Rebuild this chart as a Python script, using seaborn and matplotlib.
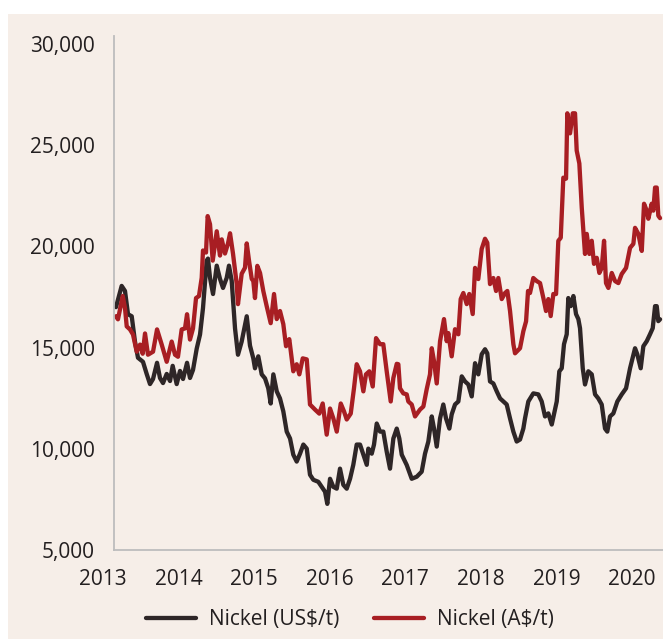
import numpy as np
import pandas as pd
import matplotlib
matplotlib.use("Agg")
import matplotlib.pyplot as plt
from matplotlib.patches import Rectangle
from matplotlib.ticker import FuncFormatter
import seaborn as sns

# Nickel price, US$/t (decimal year, value)
us_dates = [
    2013.172, 2013.247, 2013.291, 2013.331, 2013.380, 2013.423, 2013.463, 2013.529,
    2013.578, 2013.622, 2013.662, 2013.715, 2013.754, 2013.794, 2013.843, 2013.887,
    2013.922, 2013.975, 2014.019, 2014.059, 2014.112, 2014.151, 2014.191, 2014.240,
    2014.284, 2014.323, 2014.372, 2014.389, 2014.416, 2014.456, 2014.505, 2014.548,
    2014.588, 2014.637, 2014.667, 2014.703, 2014.747, 2014.786, 2014.835, 2014.902,
    2014.945, 2014.989, 2015.011, 2015.055, 2015.100, 2015.144, 2015.187, 2015.219,
    2015.254, 2015.299, 2015.342, 2015.386, 2015.431, 2015.475, 2015.518, 2015.563,
    2015.607, 2015.651, 2015.696, 2015.739, 2015.783, 2015.849, 2015.894, 2015.938,
    2015.968, 2016.004, 2016.048, 2016.093, 2016.136, 2016.180, 2016.225, 2016.269,
    2016.312, 2016.357, 2016.401, 2016.445, 2016.490, 2016.511, 2016.556, 2016.586,
    2016.622, 2016.666, 2016.709, 2016.754, 2016.798, 2016.842, 2016.887, 2016.921,
    2016.953, 2017.019, 2017.085, 2017.151, 2017.217, 2017.261, 2017.305, 2017.350,
    2017.380, 2017.416, 2017.460, 2017.503, 2017.539, 2017.583, 2017.614, 2017.658,
    2017.702, 2017.747, 2017.790, 2017.834, 2017.879, 2017.923, 2017.966, 2018.011,
    2018.055, 2018.085, 2018.121, 2018.165, 2018.210, 2018.254, 2018.297, 2018.342,
    2018.386, 2018.430, 2018.474, 2018.518, 2018.562, 2018.584, 2018.628, 2018.694,
    2018.760, 2018.805, 2018.849, 2018.893, 2018.938, 2018.981, 2019.004, 2019.038,
    2019.070, 2019.100, 2019.136, 2019.157, 2019.189, 2019.224, 2019.259, 2019.290,
    2019.312, 2019.348, 2019.378, 2019.422, 2019.467, 2019.511, 2019.554, 2019.599,
    2019.643, 2019.673, 2019.709, 2019.753, 2019.806, 2019.864, 2019.921, 2019.974,
    2020.040, 2020.070, 2020.115, 2020.150, 2020.195, 2020.238, 2020.274, 2020.305,
    2020.327, 2020.348, 2020.371,
]
us_values = [
    17000, 18050, 17800, 16650, 16550, 15300, 14500, 14300,
    13700, 13200, 13450, 14250, 13500, 13250, 13700, 13350,
    14100, 13200, 13850, 13450, 14250, 13500, 13900, 14950,
    15650, 16950, 19300, 19400, 18450, 17650, 19050, 18400,
    17950, 18450, 19050, 18300, 15950, 14650, 15300, 16550,
    15100, 14470, 13980, 14570, 13680, 13480, 12990, 12240,
    13680, 12840, 12490, 11850, 10850, 10510, 9710, 9370,
    9760, 10210, 10010, 8720, 8470, 8370, 8120, 7880,
    7280, 8520, 8120, 8030, 9020, 8220, 8030, 8520,
    9210, 10210, 10210, 9710, 9210, 10010, 9760, 10210,
    11250, 10850, 10850, 9860, 9020, 10510, 11000, 10510,
    9710, 9200, 8520, 8620, 8870, 9760, 10360, 11600,
    11000, 10110, 11500, 12190, 11500, 11000, 11700, 12190,
    12340, 13580, 13330, 13180, 12590, 14230, 13680, 14670,
    14920, 14720, 13330, 13230, 12840, 12490, 12340, 12190,
    11500, 10850, 10360, 10460, 11000, 11500, 12340, 12740,
    12690, 12340, 11600, 11750, 11200, 11940, 12340, 13830,
    13980, 15170, 15660, 17450, 17050, 17550, 16660, 16410,
    15960, 13980, 13180, 13830, 13680, 12690, 12490, 12190,
    11000, 10850, 11600, 11750, 12340, 12690, 12990, 13980,
    14970, 14670, 13980, 15070, 15320, 15660, 15960, 17050,
    17050, 16310, 16400,
]

# Nickel price, A$/t (decimal year, value)
aud_dates = [
    2013.172, 2013.198, 2013.261, 2013.291, 2013.314, 2013.357, 2013.397, 2013.446,
    2013.490, 2013.525, 2013.556, 2013.595, 2013.662, 2013.715, 2013.777, 2013.843,
    2013.909, 2013.953, 2013.992, 2014.041, 2014.085, 2014.112, 2014.151, 2014.191,
    2014.231, 2014.270, 2014.306, 2014.323, 2014.363, 2014.385, 2014.416, 2014.452,
    2014.505, 2014.548, 2014.571, 2014.614, 2014.654, 2014.681, 2014.720, 2014.769,
    2014.786, 2014.835, 2014.879, 2014.902, 2014.932, 2014.968, 2014.989, 2015.011,
    2015.042, 2015.078, 2015.121, 2015.166, 2015.219, 2015.263, 2015.299, 2015.342,
    2015.386, 2015.422, 2015.465, 2015.518, 2015.563, 2015.598, 2015.643, 2015.696,
    2015.739, 2015.805, 2015.862, 2015.907, 2015.960, 2016.004, 2016.048, 2016.093,
    2016.146, 2016.189, 2016.225, 2016.278, 2016.321, 2016.357, 2016.401, 2016.445,
    2016.480, 2016.524, 2016.569, 2016.613, 2016.666, 2016.709, 2016.754, 2016.807,
    2016.842, 2016.887, 2016.908, 2016.930, 2016.974, 2017.019, 2017.040, 2017.085,
    2017.129, 2017.195, 2017.239, 2017.283, 2017.327, 2017.350, 2017.380, 2017.416,
    2017.460, 2017.512, 2017.548, 2017.569, 2017.614, 2017.658, 2017.702, 2017.733,
    2017.768, 2017.813, 2017.847, 2017.892, 2017.923, 2017.966, 2018.011, 2018.055,
    2018.085, 2018.121, 2018.165, 2018.201, 2018.231, 2018.276, 2018.320, 2018.350,
    2018.386, 2018.430, 2018.452, 2018.518, 2018.562, 2018.598, 2018.624, 2018.650,
    2018.694, 2018.739, 2018.783, 2018.827, 2018.862, 2018.893, 2018.924, 2018.959,
    2018.995, 2019.025, 2019.057, 2019.091, 2019.127, 2019.144, 2019.180, 2019.216,
    2019.246, 2019.268, 2019.303, 2019.335, 2019.378, 2019.401, 2019.436, 2019.467,
    2019.497, 2019.533, 2019.568, 2019.599, 2019.630, 2019.656, 2019.687, 2019.732,
    2019.775, 2019.819, 2019.864, 2019.921, 2019.974, 2020.018, 2020.040, 2020.084,
    2020.129, 2020.159, 2020.195, 2020.216, 2020.260, 2020.282, 2020.305, 2020.327,
    2020.348, 2020.371,
]
aud_values = [
    16550, 16400, 17550, 16950, 16050, 15900, 15650, 14800,
    15150, 14700, 15700, 14650, 14800, 15900, 15150, 14300,
    15300, 14650, 14550, 15900, 15950, 16650, 15400, 15950,
    17450, 17550, 18450, 19800, 19700, 21500, 21100, 19300,
    20750, 19550, 20350, 19650, 20150, 20650, 19650, 18150,
    17150, 18650, 18950, 20150, 19300, 18400, 18290, 17450,
    19040, 18690, 17800, 17050, 16210, 17650, 16410, 16810,
    16160, 15070, 15420, 13830, 14180, 13680, 14470, 14420,
    12190, 11940, 11740, 12240, 10700, 11990, 11500, 10850,
    12240, 11850, 11450, 11740, 12990, 14180, 13830, 12840,
    13680, 13830, 13080, 15470, 15170, 15170, 13830, 12340,
    13500, 14200, 14180, 12990, 12740, 12690, 12340, 12190,
    11600, 11940, 12090, 12940, 13680, 14970, 14330, 13230,
    15320, 16410, 15320, 15720, 14570, 15910, 15660, 17400,
    17700, 17150, 17650, 16660, 18940, 18390, 19880, 20380,
    20180, 18140, 18440, 17800, 18440, 17400, 17700, 17800,
    16810, 15170, 14720, 14970, 15810, 16300, 17800, 17700,
    18440, 18290, 18190, 17450, 16810, 17400, 16560, 17650,
    17650, 20280, 20430, 23400, 23350, 26580, 25590, 26580,
    26580, 24740, 24100, 21910, 19630, 20620, 19630, 20280,
    19140, 19440, 18690, 18940, 20280, 18190, 17950, 18690,
    18290, 18190, 18640, 18940, 19930, 20130, 20920, 20620,
    19780, 22110, 21770, 21370, 22110, 21770, 22910, 22910,
    21520, 21400,
]

year_ticks = [2013, 2014, 2015, 2016, 2017, 2018, 2019, 2020]
y_ticks = [5000, 10000, 15000, 20000, 25000, 30000]
series_names = ["Nickel (US$/t)", "Nickel (A$/t)"]

df = pd.concat([
    pd.DataFrame({"date": us_dates, "price": us_values, "series": series_names[0]}),
    pd.DataFrame({"date": aud_dates, "price": aud_values, "series": series_names[1]}),
])

bg = "#F6EEE8"
palette = {series_names[0]: "#2E2627", series_names[1]: "#A81E23"}

sns.set_theme(style="white")
plt.rcParams["font.family"] = ["Open Sans", "DejaVu Sans"]

fig = plt.figure(figsize=(6.63, 6.39), dpi=100)
fig.patch.set_facecolor("white")
# beige panel behind the chart (white strip on top and left)
fig.patches.append(Rectangle((8 / 663, 0), 1 - 8 / 663, 1 - 14 / 639,
                             transform=fig.transFigure, facecolor=bg,
                             edgecolor="none", zorder=-10))

ax = fig.add_axes([103 / 663, 1 - 550 / 639, 1 - 103 / 663, (550 - 36) / 639])
ax.set_facecolor("none")
ax.set_zorder(5)

sns.lineplot(data=df, x="date", y="price", hue="series", palette=palette,
             hue_order=series_names, estimator=None, linewidth=3.1, ax=ax)

x_left = 2013.146
ax.set_xlim(2013.0, 2020.41)
ax.set_ylim(5000, 30400)
ax.set_xticks(year_ticks)
ax.set_yticks(y_ticks)
ax.yaxis.set_major_formatter(FuncFormatter(lambda v, p: f"{int(v):,}"))
ax.tick_params(axis="both", length=0, labelsize=15, colors="#231F20", pad=14)
ax.set_xlabel("")
ax.set_ylabel("")

for s in ["top", "right"]:
    ax.spines[s].set_visible(False)
for s in ["left", "bottom"]:
    ax.spines[s].set_color("#BDBDBD")
    ax.spines[s].set_linewidth(1.3)
ax.spines["left"].set_position(("data", x_left))
ax.spines["bottom"].set_bounds(x_left, 2020.41)

handles, labels = ax.get_legend_handles_labels()
ax.get_legend().remove()
leg = fig.legend(handles, labels, loc="center", bbox_to_anchor=(350 / 663, 1 - 620 / 639),
                 ncol=2, frameon=False, fontsize=15, handlelength=2.4,
                 handletextpad=0.6, columnspacing=1.7, labelcolor="#231F20")
leg.set_zorder(6)

fig.savefig("out.png", dpi=100, facecolor=fig.get_facecolor())
